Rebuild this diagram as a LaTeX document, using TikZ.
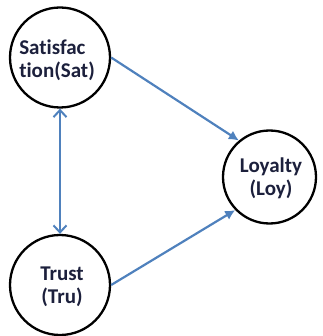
\documentclass[tikz,border=0pt]{standalone}
\usepackage{fontspec}
\setmainfont{Carlito}[Ligatures={NoCommon}]
\usetikzlibrary{arrows.meta}
\definecolor{arrowblue}{RGB}{79,129,189}
\definecolor{txt}{RGB}{28,32,60}
\begin{document}
\begin{tikzpicture}[x=1pt,y=-1pt,
  var/.style={circle,draw=black,line width=2.3pt,inner sep=0pt,fill=white},
  lbl/.style={font=\fontsize{21}{23}\selectfont\bfseries,text=txt,inner sep=0pt},
  path/.style={draw=arrowblue,line width=2.2pt,-{Latex[length=10pt,width=10pt]}},
  cov/.style={draw=arrowblue,line width=2.2pt,{Straight Barb[length=7pt,width=13pt,line width=2pt]}-{Straight Barb[length=7pt,width=13pt,line width=2pt]}}]
\useasboundingbox (0,0) rectangle (322,336);
\node[var,minimum size=100pt] (sat) at (60,57.5) {};
\node[var,minimum size=100pt] (tru) at (60,285) {};
\node[var,minimum size=93pt] (loy) at (269.5,177) {};
\node[lbl,align=left] (satl) at (57,60) {Satisfac\\tion(Sat)};
\node[lbl,align=center] (trul) at (62,287) {Trust\\(Tru)};
\node[lbl,align=center] (loyl) at (271,178) {Loyalty\\(Loy)};
\draw[path] (sat.east) -- (loy.130);
\draw[path] (tru.east) -- (loy.224);
\draw[cov] (sat.south) -- (tru.north);
\end{tikzpicture}
\end{document}
